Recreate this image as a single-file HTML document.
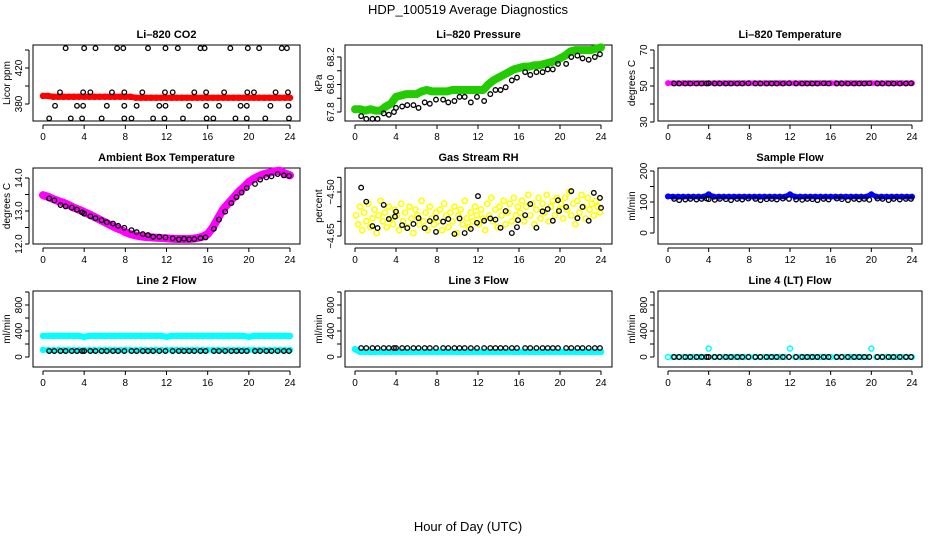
<!DOCTYPE html>
<html><head><meta charset="utf-8"><style>
body{margin:0;background:#fff}
svg{display:block;font-family:"Liberation Sans",Arial,sans-serif}
</style></head><body>
<svg id="chart" width="936" height="540" viewBox="0 0 936 540">
<text x="468" y="14" text-anchor="middle" font-size="13">HDP_100519  Average Diagnostics</text>
<text x="468" y="531" text-anchor="middle" font-size="13">Hour of Day (UTC)</text>
</svg>
<script>
// ---- shared x data ----
const halfHours = [0,0.5,1,1.5,2,2.5,3,3.5,4,4.5,5,5.5,6,6.5,7,7.5,8,8.5,9,9.5,10,10.5,11,11.5,12,12.5,13,13.5,14,14.5,15,15.5,16,16.5,17,17.5,18,18.5,19,19.5,20,20.5,21,21.5,22,22.5,23,23.5,24];
const blkHours = [0.6,1.1,1.7,2.2,2.8,3.3,3.8,4.0,4.6,5.1,5.7,6.2,6.8,7.3,7.9,8.6,9.1,9.7,10.2,10.7,11.3,11.9,12.6,13.2,13.7,14.2,14.7,15.3,15.8,16.6,17.1,17.7,18.3,18.8,19.3,19.8,20.6,21.1,21.7,22.2,22.8,23.4,23.9];
const xTicks = [0,4,8,12,16,20,24];

// ---- CO2 ----
const co2RedVals = [389,389,388,388,388,388,388,388,388,388,388,388,388,388,388,388,388,388,387,387,387,387,387,387,387,387,387,387,387,387,387,387,387,387,387,387,387,387,387,387,387,387,387,387,387,387,387,387,387];
const co2BlkHours = [2.2,4.0,5.1,7.2,7.8,10.2,11.9,13.1,15.3,15.7,18.2,19.9,21.0,23.2,23.7, 1.65,3.9,4.6,6.7,7.9,9.65,11.85,12.6,14.7,15.85,17.6,19.85,20.5,22.6,23.8, 1.17,3.3,3.9,6.2,7.9,9.1,11.3,11.9,14.2,15.85,17.1,19.2,19.8,22.1,23.85, 0.6,2.7,3.8,5.7,7.9,8.6,10.7,11.8,13.6,15.9,16.55,18.7,19.8,21.6,23.9];
const co2BlkVals = [442,442,442,442,442,442,442,442,442,442,442,442,442,442,442, 393,393,393,393,393,393,393,393,393,393,393,393,393,393,393, 378,378,378,378,378,378,378,378,378,378,378,378,378,378,378, 364,364,364,364,364,364,364,364,364,364,364,364,364,364,364];

// ---- Pressure ----
const presGreenVals = [67.82,67.82,67.81,67.82,67.81,67.81,67.84,67.86,67.91,67.92,67.93,67.93,67.93,67.95,67.96,67.95,67.95,67.95,67.95,67.96,67.96,67.96,67.96,67.96,67.96,67.96,68.00,68.03,68.05,68.07,68.09,68.11,68.12,68.13,68.13,68.14,68.14,68.15,68.16,68.17,68.19,68.21,68.24,68.25,68.25,68.25,68.25,68.26,68.27];
const presBlkVals = [67.77,67.75,67.75,67.75,67.79,67.78,67.80,67.83,67.84,67.85,67.85,67.83,67.87,67.86,67.89,67.89,67.87,67.88,67.91,67.91,67.87,67.91,67.88,67.93,67.96,67.96,67.98,68.03,68.05,68.09,68.07,68.09,68.09,68.11,68.11,68.15,68.15,68.20,68.21,68.19,68.18,68.20,68.22];

// ---- Li-820 temperature ----
const tempMagVals = [51.6,51.6,51.6,51.6,51.6,51.6,51.6,51.6,51.6,51.6,51.6,51.6,51.6,51.6,51.6,51.6,51.6,51.6,51.6,51.6,51.6,51.6,51.6,51.6,51.6,51.6,51.6,51.6,51.6,51.6,51.6,51.6,51.6,51.6,51.6,51.6,51.6,51.6,51.6,51.6,51.6,51.6,51.6,51.6,51.6,51.6,51.6,51.6,51.6];
const tempBlkVals = [51.4,51.4,51.4,51.4,51.4,51.4,51.4,51.5,51.4,51.4,51.4,51.4,51.4,51.4,51.5,51.4,51.4,51.4,51.4,51.4,51.4,51.5,51.4,51.4,51.4,51.4,51.4,51.5,51.4,51.4,51.4,51.4,51.4,51.4,51.4,51.5,51.4,51.4,51.4,51.4,51.4,51.4,51.5];

// ---- Ambient box temperature ----
const ambMagVals = [13.48,13.43,13.36,13.30,13.25,13.18,13.10,13.04,12.97,12.90,12.82,12.74,12.66,12.58,12.50,12.44,12.36,12.30,12.26,12.23,12.21,12.20,12.19,12.18,12.17,12.16,12.15,12.15,12.15,12.16,12.18,12.22,12.30,12.50,12.78,13.05,13.23,13.40,13.58,13.72,13.88,13.98,14.06,14.12,14.16,14.20,14.22,14.14,14.08];
const ambBlkVals = [13.38,13.32,13.18,13.14,13.10,13.04,12.96,12.92,12.84,12.78,12.72,12.66,12.62,12.55,12.49,12.42,12.36,12.30,12.27,12.22,12.22,12.20,12.17,12.14,12.16,12.14,12.15,12.18,12.20,12.46,12.74,12.98,13.24,13.42,13.56,13.70,13.82,13.95,14.02,14.05,14.12,14.08,14.06];

// ---- Gas stream RH ----
const rhYelHours = [0.1,0.3,0.5,0.7,0.9,1.1,1.3,1.5,1.7,1.9,2.1,2.3,2.5,2.7,2.9,3.1,3.3,3.5,3.7,3.9,4.1,4.3,4.5,4.7,4.9,5.1,5.3,5.5,5.7,5.9,6.1,6.3,6.5,6.7,6.9,7.1,7.3,7.5,7.7,7.9,8.1,8.3,8.5,8.7,8.9,9.1,9.3,9.5,9.7,9.9,10.1,10.3,10.5,10.7,10.9,11.1,11.3,11.5,11.7,11.9,12.1,12.3,12.5,12.7,12.9,13.1,13.3,13.5,13.7,13.9,14.1,14.3,14.5,14.7,14.9,15.1,15.3,15.5,15.7,15.9,16.1,16.3,16.5,16.7,16.9,17.1,17.3,17.5,17.7,17.9,18.1,18.3,18.5,18.7,18.9,19.1,19.3,19.5,19.7,19.9,20.1,20.3,20.5,20.7,20.9,21.1,21.3,21.5,21.7,21.9,22.1,22.3,22.5,22.7,22.9,23.1,23.3,23.5,23.7,23.9];
const rhYelVals = [-4.58,-4.61,-4.55,-4.63,-4.57,-4.60,-4.54,-4.62,-4.59,-4.56,-4.64,-4.58,-4.53,-4.60,-4.57,-4.62,-4.55,-4.59,-4.61,-4.56,
-4.58,-4.63,-4.54,-4.60,-4.57,-4.62,-4.55,-4.59,-4.64,-4.56,-4.58,-4.61,-4.53,-4.60,-4.57,-4.63,-4.55,-4.59,-4.61,-4.57,
-4.60,-4.56,-4.63,-4.54,-4.58,-4.62,-4.57,-4.60,-4.55,-4.64,-4.58,-4.56,-4.61,-4.53,-4.59,-4.62,-4.57,-4.60,-4.55,-4.58,
-4.61,-4.56,-4.59,-4.63,-4.54,-4.58,-4.52,-4.60,-4.56,-4.62,-4.55,-4.58,-4.53,-4.61,-4.57,-4.54,-4.60,-4.52,-4.58,-4.55,
-4.57,-4.53,-4.60,-4.55,-4.51,-4.58,-4.54,-4.61,-4.56,-4.52,-4.59,-4.54,-4.57,-4.51,-4.60,-4.55,-4.53,-4.58,-4.52,-4.56,
-4.54,-4.59,-4.52,-4.56,-4.50,-4.58,-4.54,-4.61,-4.53,-4.57,-4.51,-4.55,-4.59,-4.52,-4.56,-4.54,-4.58,-4.53,-4.55,-4.57];
const rhBlkHours = [0.6,1.1,1.7,2.2,2.8,3.3,3.9,4.0,4.6,5.1,5.7,6.2,6.8,7.3,7.9,7.9,8.6,9.1,9.7,10.2,10.7,11.3,11.9,12.0,12.6,13.2,13.7,14.2,14.7,15.3,15.8,15.9,16.6,17.1,17.7,18.3,18.8,19.3,19.8,19.9,20.6,21.1,21.7,22.2,22.8,23.3,23.9,24.0];
const rhBlkVals = [-4.485,-4.533,-4.616,-4.623,-4.544,-4.592,-4.584,-4.567,-4.613,-4.623,-4.609,-4.589,-4.623,-4.599,-4.588,-4.636,-4.601,-4.592,-4.643,-4.590,-4.640,-4.626,-4.605,-4.514,-4.598,-4.590,-4.594,-4.622,-4.565,-4.640,-4.620,-4.596,-4.579,-4.541,-4.622,-4.566,-4.558,-4.598,-4.528,-4.565,-4.551,-4.497,-4.589,-4.551,-4.598,-4.503,-4.520,-4.554];

// ---- Sample flow ----
const sfBlueVals = [118,117,117,117,117,117,117,117,125,117,117,117,117,117,117,117,117,117,117,117,117,117,117,117,125,117,117,117,117,117,117,117,117,117,117,117,117,117,117,117,125,117,117,117,117,117,117,117,117];
const sfBlkVals = [110,106,108,110,108,110,111,109,107,110,109,106,110,108,111,110,106,109,110,108,111,110,108,107,110,109,106,110,108,111,109,106,110,108,110,107,111,110,106,110,108,110,110];

// ---- Line flows ----
const l2CyanHi = [325,325,325,325,325,325,325,325,310,325,325,325,325,325,325,325,325,325,325,325,325,325,325,325,310,325,325,325,325,325,325,325,325,325,325,325,325,325,325,325,310,325,325,325,325,325,325,325,325];
const l2CyanLo = [108,108,108,108,108,108,108,108,108,108,108,108,108,108,108,108,108,108,108,108,108,108,108,108,108,108,108,108,108,108,108,108,108,108,108,108,108,108,108,108,108,108,108,108,108,108,108,108,108];
const l2BlkVals = [92,92,92,92,92,92,92,92,92,92,92,92,92,92,92,92,92,92,92,92,92,92,92,92,92,92,92,92,92,92,92,92,92,92,92,92,92,92,92,92,92,92,92];
const l3CyanVals = [120,78,78,78,78,78,78,78,78,78,78,78,78,78,78,78,78,78,78,78,78,78,78,78,78,78,78,78,78,78,78,78,78,78,78,78,78,78,78,78,78,78,78,78,78,78,78,78,78];
const l3BlkVals = [138,138,138,138,138,138,138,138,138,138,138,138,138,138,138,138,138,138,138,138,138,138,138,138,138,138,138,138,138,138,138,138,138,138,138,138,138,138,138,138,138,138,138];
const l4CyanVals = [0,0,0,0,0,0,0,0,130,0,0,0,0,0,0,0,0,0,0,0,0,0,0,0,130,0,0,0,0,0,0,0,0,0,0,0,0,0,0,0,130,0,0,0,0,0,0,0,0];
const l4BlkVals = [0,0,0,0,0,0,0,0,0,0,0,0,0,0,0,0,0,0,0,0,0,0,0,0,0,0,0,0,0,0,0,0,0,0,0,0,0,0,0,0,0,0,0];

const NS = 'http://www.w3.org/2000/svg';
const svg = document.getElementById('chart');
function mk(tag, attrs, parent){const e=document.createElementNS(NS,tag);for(const k in attrs)e.setAttribute(k,attrs[k]);(parent||svg).appendChild(e);return e;}

const colX = [[43,290,33,300],[355,601,345,612],[668,912,658,922]];
const rowY = [[45,121],[168,244],[291,367]];

function makePanel(name, col, row, title, ylab, yref, yticks, ylabels){
  const g = mk('g',{});
  
  
  const [xa,xb,bx0,bx1] = colX[col]; const [by0,by1] = rowY[row];
  const xs = h => xa + (xb-xa)*h/24;
  const ys = v => yref[1] + (v-yref[0])*(yref[3]-yref[1])/(yref[2]-yref[0]);
  const box = mk('rect',{x:bx0,y:by0,width:bx1-bx0,height:by1-by0,fill:'none',stroke:'#000','stroke-width':1},g);
  
  
  const t = mk('text',{x:(bx0+bx1)/2,y:by0-7,'text-anchor':'middle','font-size':11,'font-weight':'bold'},g);
  t.textContent = title;
  
  
  const ax = mk('g',{},g);
  
  
  mk('line',{x1:xs(0),x2:xs(24),y1:by1+4,y2:by1+4,stroke:'#000'},ax);
  xTicks.forEach(v=>{
    mk('line',{x1:xs(v),x2:xs(v),y1:by1+4,y2:by1+8,stroke:'#000'},ax);
    const l = mk('text',{x:xs(v),y:by1+19,'text-anchor':'middle','font-size':10},ax);
    l.textContent = v;
    
    
  });
  const ay = mk('g',{},g);
  
  
  mk('line',{x1:bx0-4,x2:bx0-4,y1:ys(yticks[0]),y2:ys(yticks[yticks.length-1]),stroke:'#000'},ay);
  yticks.forEach((v,i)=>{
    mk('line',{x1:bx0-8,x2:bx0-4,y1:ys(v),y2:ys(v),stroke:'#000'},ay);
    if(ylabels[i]!==''){
      const l = mk('text',{x:bx0-11,y:ys(v),'text-anchor':'middle','font-size':10,transform:`rotate(-90 ${bx0-11} ${ys(v)})`},ay);
      l.textContent = ylabels[i];
      
      
    }
  });
  const yl = mk('text',{x:bx0-23,y:(by0+by1)/2,'text-anchor':'middle','font-size':10,transform:`rotate(-90 ${bx0-23} ${(by0+by1)/2})`},g);
  yl.textContent = ylab;
  
  
  return {g,xs,ys};
}

function series(p, name, hours, vals, color, band, r, sw){
  const g = mk('g',{},p.g);
  
  
  if(band){
    const pts = hours.map((h,i)=>p.xs(h)+','+p.ys(vals[i])).join(' ');
    mk('polyline',{points:pts,fill:'none',stroke:color,'stroke-width':band,'stroke-linejoin':'round','stroke-linecap':'round'},g);
  }
  hours.forEach((h,i)=>{
    const c = mk('circle',{cx:p.xs(h),cy:p.ys(vals[i]),r:r||2.3,fill:'none',stroke:color,'stroke-width':sw||1.3},g);
    
    
  });
}

let p;
p = makePanel('panel-co2',0,0,'Li\u2013820 CO2','Licor ppm',[420,68,380,104],[440,420,400,380],['','420','','380']);
series(p,'co2-red-series',halfHours,co2RedVals,'#ff0000',6,2.5,1.5);
series(p,'co2-black-series',co2BlkHours,co2BlkVals,'#000',0);

p = makePanel('panel-pressure',1,0,'Li\u2013820 Pressure','kPa',[68.2,57,67.8,112],[67.8,67.9,68.0,68.1,68.2],['67.8','','68.0','','68.2']);
series(p,'pressure-green-series',halfHours,presGreenVals,'#22cc00',8,2.5,1.5);
series(p,'pressure-black-series',blkHours,presBlkVals,'#000',0);

p = makePanel('panel-li820-temp',2,0,'Li\u2013820 Temperature','degrees C',[70,50,50,86],[30,40,50,60,70],['30','','50','','70']);
series(p,'temp-magenta-series',halfHours,tempMagVals,'#ff00ff',5,2.3,1.3);
series(p,'temp-black-series',blkHours,tempBlkVals,'#000',0);

p = makePanel('panel-ambient',0,1,'Ambient Box Temperature','degrees C',[14,178,13,211],[12,12.5,13,13.5,14],['12.0','','13.0','','14.0']);
series(p,'ambient-magenta-series',halfHours,ambMagVals,'#ff00ff',8,2.5,1.5);
series(p,'ambient-black-series',blkHours,ambBlkVals,'#000',0);

p = makePanel('panel-rh',1,1,'Gas Stream RH','percent',[-4.5,192,-4.65,236],[-4.65,-4.6,-4.55,-4.5,-4.45],['\u22124.65','','','\u22124.50','']);
series(p,'rh-yellow-series',rhYelHours,rhYelVals,'#ffff00',0,2.6,1.6);
series(p,'rh-black-series',rhBlkHours,rhBlkVals,'#000',0);

p = makePanel('panel-sample-flow',2,1,'Sample Flow','ml/min',[200,171,0,233],[0,50,100,150,200],['0','','100','','200']);
series(p,'sampleflow-blue-series',halfHours,sfBlueVals,'#0000ff',5,2.3,1.5);
series(p,'sampleflow-black-series',blkHours,sfBlkVals,'#000',0);

p = makePanel('panel-line2',0,2,'Line 2 Flow','ml/min',[0,357,400,331],[0,200,400,600,800,1000],['0','','400','','800','']);
series(p,'line2-cyan-high',halfHours,l2CyanHi,'#00ffff',6,2.5,1.5);
series(p,'line2-cyan-low',halfHours,l2CyanLo,'#00ffff',5,2.5,1.5);
series(p,'line2-black-series',blkHours,l2BlkVals,'#000',0);

p = makePanel('panel-line3',1,2,'Line 3 Flow','ml/min',[0,357,400,331],[0,200,400,600,800,1000],['0','','400','','800','']);
series(p,'line3-cyan-series',halfHours,l3CyanVals,'#00ffff',6,2.5,1.5);
series(p,'line3-black-series',blkHours,l3BlkVals,'#000',0);

p = makePanel('panel-line4',2,2,'Line 4 (LT) Flow','ml/min',[0,357,400,331],[0,200,400,600,800,1000],['0','','400','','800','']);
series(p,'line4-cyan-series',halfHours,l4CyanVals,'#00ffff',0,2.5,1.5);
series(p,'line4-black-series',blkHours,l4BlkVals,'#000',0);
</script>
</body></html>
